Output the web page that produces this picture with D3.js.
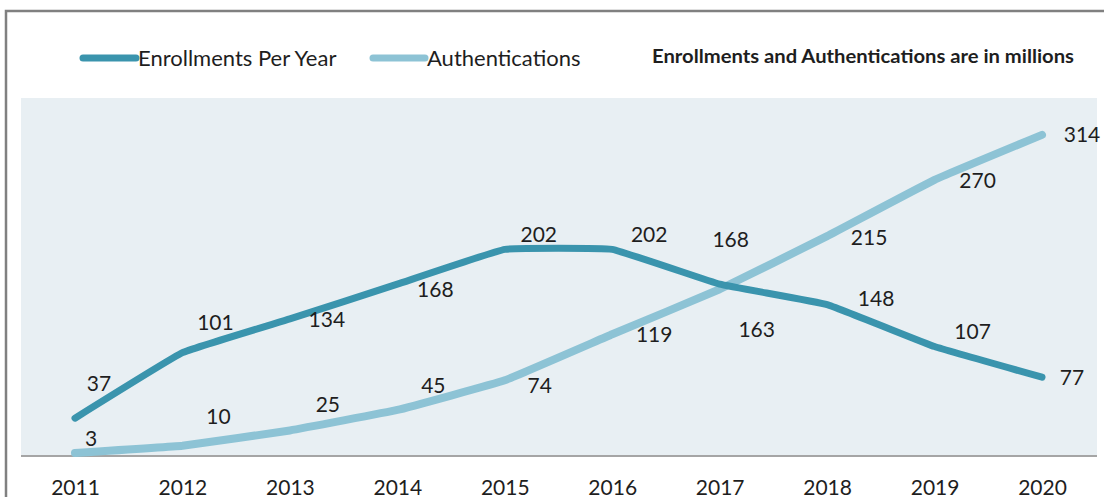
<!DOCTYPE html>
<html><head><meta charset="utf-8">
<script src="https://cdn.jsdelivr.net/npm/d3@7"></script>
<style>
html,body{margin:0;padding:0;background:#fff;}
svg{display:block;}
text{font-family:Lato,"Open Sans",sans-serif;fill:#1e1e1e;}
</style></head>
<body>
<svg id="chart" width="1104" height="497"></svg>
<script>
const years = [2011, 2012, 2013, 2014, 2015, 2016, 2017, 2018, 2019, 2020];
const enrollments = [37, 101, 134, 168, 202, 202, 168, 148, 107, 77];
const authentications = [3, 10, 25, 45, 74, 119, 163, 215, 270, 314];
const seriesNames = ["Enrollments Per Year", "Authentications"];
const noteText = "Enrollments and Authentications are in millions";

// label placement offsets (styling)
const enrolDx = [24, 33, 37, 38, 34, 37, 11, 49, 38, 30];
const enrolDy = [-35, -30, 1, 5, -15, -15, -45, -6, -15, 0];
const authDx = [16, 36, 38, 36, 35, 42, 37, 42, 43, 40];
const authDy = [-14, -29, -26, -25, 5, 0, 40, 1, 1, 0];

const svg = d3.select("#chart");
const colE = "#3a94ad", colA = "#8dc3d5";

// frame
svg.append("path").attr("d", "M6,497 V11 H1104")
  .attr("fill", "none").attr("stroke", "#808080").attr("stroke-width", 2.5);

const plot = {left: 21, right: 1097, top: 98, bottom: 456};
const x = d3.scalePoint().domain(years).range([75, 1042]);
const y = d3.scaleLinear().domain([0, 350]).range([plot.bottom, plot.top]);

svg.append("rect").attr("x", plot.left).attr("y", plot.top)
  .attr("width", plot.right - plot.left).attr("height", plot.bottom - plot.top)
  .attr("fill", "#e8eff3");

// x axis
const xAxis = svg.append("g").attr("transform", `translate(0,${plot.bottom})`)
  .call(d3.axisBottom(x).tickSize(0).tickPadding(24));
xAxis.select(".domain").remove();
xAxis.selectAll("text").style("font-family", "Lato").style("font-size", "21px").attr("fill", "#222");
svg.append("line").attr("x1", plot.left).attr("x2", plot.right)
  .attr("y1", plot.bottom).attr("y2", plot.bottom)
  .attr("stroke", "#a5a5a5").attr("stroke-width", 2);

const line = d3.line().x((d, i) => x(years[i])).y(d => y(d)).curve(d3.curveCardinal.tension(0.75));

svg.append("path").datum(authentications).attr("d", line)
  .attr("fill", "none").attr("stroke", colA).attr("stroke-width", 8)
  .attr("stroke-linecap", "round").attr("stroke-linejoin", "round");
svg.append("path").datum(enrollments).attr("d", line)
  .attr("fill", "none").attr("stroke", colE).attr("stroke-width", 7)
  .attr("stroke-linecap", "round").attr("stroke-linejoin", "round");

function labels(vals, dx, dy) {
  svg.append("g").selectAll("text").data(vals).join("text")
    .attr("x", (d, i) => x(years[i]) + dx[i])
    .attr("y", (d, i) => y(d) + dy[i])
    .attr("dy", "0.36em")
    .attr("text-anchor", "middle")
    .style("font-size", "21px")
    .text(d => d);
}
labels(enrollments, enrolDx, enrolDy);
labels(authentications, authDx, authDy);

// legend
const leg = [{name: seriesNames[0], c: colE, x0: 83, x1: 136, w: 7},
             {name: seriesNames[1], c: colA, x0: 373, x1: 425, w: 7}];
leg.forEach(l => {
  svg.append("line").attr("x1", l.x0).attr("x2", l.x1).attr("y1", 58).attr("y2", 58)
    .attr("stroke", l.c).attr("stroke-width", l.w).attr("stroke-linecap", "round");
  svg.append("text").attr("x", l.x1 + 2).attr("y", 58).attr("dy", "0.36em")
    .style("font-size", "22px").text(l.name);
});
svg.append("text").attr("x", 652).attr("y", 57).attr("dy", "0.36em")
  .attr("textLength", 422).attr("lengthAdjust", "spacingAndGlyphs")
  .style("font-size", "18px").style("font-weight", "bold")
  .text(noteText);
</script>
</body></html>
